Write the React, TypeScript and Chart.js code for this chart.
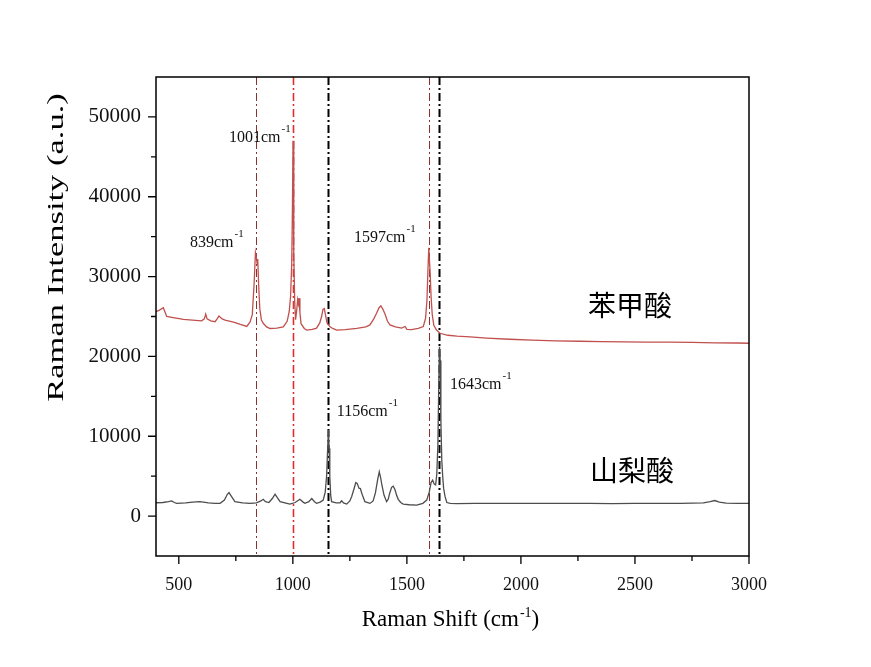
import React, { useEffect, useRef } from 'react';
import { Chart, registerables } from 'chart.js';

Chart.register(...registerables);

// ---------------- data ----------------
const benzoicShift = [
  400, 415, 432, 447, 470, 520, 560, 600, 612, 618, 624, 640, 659, 668, 676, 690, 703, 740, 770, 798,
  812, 822, 830, 836, 840, 844, 846, 850, 855, 862, 870, 885, 900, 930, 958, 975, 984, 990, 995, 998,
  1001, 1003, 1005, 1008, 1012, 1017, 1021, 1024, 1027, 1031, 1036, 1050, 1061, 1085, 1104, 1118, 1126,
  1132, 1138, 1143, 1150, 1163, 1175, 1192, 1230, 1280, 1320, 1338, 1355, 1367, 1378, 1386, 1395, 1404,
  1415, 1426, 1450, 1477, 1492, 1500, 1520, 1550, 1572, 1582, 1588, 1592, 1596, 1599, 1602, 1606, 1611,
  1618, 1630, 1645, 1680, 1720, 1777, 1850, 1950, 2050, 2150, 2259, 2350, 2450, 2550, 2650, 2750, 2850,
  2950, 3000,
];
const benzoicIntensity = [
  25600, 25800, 26100, 25000, 24900, 24650, 24550, 24450, 24700, 25300, 24700, 24450, 24350, 24700, 25050,
  24700, 24550, 24300, 24000, 23750, 24300, 25200, 29000, 33000, 32400, 31500, 32200, 29000, 26000, 24600,
  24150, 23700, 23500, 23550, 23700, 24400, 25600, 27500, 31500, 38000, 47000, 44000, 33000, 27000, 24600,
  25800, 27100, 26600, 27300, 25500, 24100, 23500, 23300, 23400, 23550, 24200, 25000, 25900, 26000, 25200,
  24200, 23700, 23500, 23300, 23350, 23500, 23700, 23950, 24700, 25400, 26100, 26350, 25900, 25300, 24400,
  23950, 23700, 23550, 23750, 23400, 23350, 23500, 23750, 24800, 27000, 30500, 33600, 32000, 30500, 27500,
  25300, 23900, 23300, 22900, 22650, 22550, 22450, 22300, 22150, 22050, 21950, 21900, 21850, 21820, 21800,
  21780, 21750, 21700, 21680, 21650,
];

const sorbicShift = [
  400, 430, 455, 469, 480, 491, 530, 560, 593, 630, 660, 681, 700, 712, 720, 730, 746, 780, 812, 840,
  860, 870, 880, 895, 910, 922, 932, 944, 965, 987, 1010, 1031, 1045, 1053, 1070, 1083, 1095, 1104, 1120,
  1133, 1142, 1148, 1152, 1156, 1159, 1162, 1166, 1170, 1190, 1207, 1214, 1222, 1236, 1250, 1258, 1268,
  1276, 1282, 1290, 1296, 1304, 1316, 1338, 1352, 1362, 1372, 1379, 1385, 1391, 1400, 1411, 1418, 1425,
  1433, 1440, 1448, 1455, 1462, 1473, 1484, 1510, 1543, 1570, 1587, 1598, 1606, 1613, 1620, 1626, 1631,
  1636, 1640, 1643, 1646, 1649, 1653, 1657, 1661, 1667, 1675, 1690, 1720, 1800, 1900, 2000, 2100, 2200,
  2300, 2400, 2500, 2600, 2700, 2800, 2830, 2850, 2870, 2900, 2950, 3000,
];
const sorbicIntensity = [
  1670, 1700, 1800, 1900, 1700, 1590, 1650, 1750, 1800, 1650, 1600, 1600, 2000, 2700, 2950, 2500, 1800,
  1650, 1600, 1650, 1900, 2100, 1800, 1700, 2200, 2750, 2300, 1800, 1650, 1500, 1700, 2100, 1750, 1600,
  1800, 2200, 1800, 1600, 1750, 2000, 3000, 5000, 8000, 10800, 8500, 5000, 2600, 1800, 1650, 1670, 1920,
  1650, 1500, 1900, 2450, 3400, 4200, 4100, 3500, 3450, 2700, 1800, 1590, 1900, 2900, 4600, 5550, 4800,
  3800, 2600, 1800, 2100, 2900, 3600, 3750, 3300, 2600, 2100, 1700, 1500, 1420, 1380, 1600, 2000, 3000,
  4200, 4500, 4000, 3900, 5200, 9000, 17000, 21200, 19500, 12000, 7000, 5000, 3500, 2500, 1700, 1600,
  1550, 1600, 1580, 1590, 1600, 1580, 1600, 1570, 1590, 1580, 1600, 1650, 1800, 1950, 1750, 1620, 1600,
  1590,
];

const xMajorTicks = [500, 1000, 1500, 2000, 2500, 3000];
const xMinorTicks = [750, 1250, 1750, 2250, 2750];
const yMajorTicks = [0, 10000, 20000, 30000, 40000, 50000];
const yMinorTicks = [5000, 15000, 25000, 35000, 45000];

const seriesNames = ['苯甲酸', '山梨酸'];
const peakPositions = [839, 1001, 1156, 1597, 1643];
const peakLabels = ['839', '1001', '1597', '1156', '1643'];

// anchors in data coordinates (left/baseline of the text)
const peakLabelAnchorX = [549, 720, 1268, 1193, 1689];
const peakLabelAnchorY = [33700, 46870, 34330, 12530, 15910];
// centers in data coordinates for the compound names
const nameAnchorX = [2478, 2487];
const nameAnchorY = [26440, 5760];

// ---------------- styles ----------------
const SERIF = '"Liberation Serif", "Times New Roman", serif';
const CJK = '"Noto Sans CJK SC", "Noto Sans", sans-serif';
const refLineStyles = [
  { color: '#8c2f2f', width: 1, dash: [8, 3, 2, 3] },
  { color: '#e0302a', width: 1.6, dash: [8, 3, 2, 3] },
  { color: '#000000', width: 2, dash: [8, 3, 2, 3] },
  { color: '#8c2f2f', width: 1, dash: [8, 3, 2, 3] },
  { color: '#000000', width: 2, dash: [8, 3, 2, 3] },
];

function drawWithSup(
  ctx: CanvasRenderingContext2D,
  base: string,
  sup: string,
  tail: string,
  x: number,
  y: number,
  size: number,
  supSize: number,
  raise: number,
  align: 'left' | 'center',
) {
  ctx.font = `${size}px ${SERIF}`;
  const wBase = ctx.measureText(base).width;
  const wTail = ctx.measureText(tail).width;
  ctx.font = `${supSize}px ${SERIF}`;
  const wSup = ctx.measureText(sup).width;
  const total = wBase + wSup + wTail + 1;
  let sx = align === 'center' ? x - total / 2 : x;
  ctx.textAlign = 'left';
  ctx.textBaseline = 'alphabetic';
  ctx.font = `${size}px ${SERIF}`;
  ctx.fillText(base, sx, y);
  sx += wBase + 1;
  ctx.font = `${supSize}px ${SERIF}`;
  ctx.fillText(sup, sx, y - raise);
  sx += wSup;
  if (tail) {
    ctx.font = `${size}px ${SERIF}`;
    ctx.fillText(tail, sx, y);
  }
}

const overlayPlugin = {
  id: 'overlay',
  beforeDatasetsDraw(chart: any) {
    const { ctx, chartArea: a, scales } = chart;
    const xs = scales.x;
    ctx.save();
    peakPositions.forEach((p, i) => {
      const st = refLineStyles[i];
      const px = Math.round(xs.getPixelForValue(p)) + 0.5;
      ctx.strokeStyle = st.color;
      ctx.lineWidth = st.width;
      ctx.setLineDash(st.dash);
      ctx.beginPath();
      ctx.moveTo(px, a.top);
      ctx.lineTo(px, a.bottom);
      ctx.stroke();
    });
    ctx.restore();
  },
  afterDraw(chart: any) {
    const { ctx, chartArea: a, scales } = chart;
    const xs = scales.x;
    const ys = scales.y;
    ctx.save();
    // frame
    ctx.strokeStyle = '#000';
    ctx.lineWidth = 1.5;
    ctx.setLineDash([]);
    ctx.strokeRect(a.left, a.top, a.right - a.left, a.bottom - a.top);
    // ticks
    ctx.lineWidth = 1.3;
    ctx.beginPath();
    xMajorTicks.forEach((v) => {
      const px = xs.getPixelForValue(v);
      ctx.moveTo(px, a.bottom);
      ctx.lineTo(px, a.bottom + 8);
    });
    xMinorTicks.forEach((v) => {
      const px = xs.getPixelForValue(v);
      ctx.moveTo(px, a.bottom);
      ctx.lineTo(px, a.bottom + 5);
    });
    yMajorTicks.forEach((v) => {
      const py = ys.getPixelForValue(v);
      ctx.moveTo(a.left, py);
      ctx.lineTo(a.left - 8, py);
    });
    yMinorTicks.forEach((v) => {
      const py = ys.getPixelForValue(v);
      ctx.moveTo(a.left, py);
      ctx.lineTo(a.left - 5, py);
    });
    ctx.stroke();

    // peak labels
    ctx.fillStyle = '#111';
    peakLabels.forEach((t, i) => {
      const px = xs.getPixelForValue(peakLabelAnchorX[i]);
      const py = ys.getPixelForValue(peakLabelAnchorY[i]);
      drawWithSup(ctx, t + 'cm', '-1', '', px, py, 16, 11, 10, 'left');
    });

    // compound names
    ctx.fillStyle = '#000';
    ctx.font = `28px ${CJK}`;
    ctx.textAlign = 'center';
    ctx.textBaseline = 'middle';
    seriesNames.forEach((n, i) => {
      ctx.fillText(n, xs.getPixelForValue(nameAnchorX[i]), ys.getPixelForValue(nameAnchorY[i]));
    });

    // x-axis title
    ctx.fillStyle = '#000';
    drawWithSup(ctx, 'Raman Shift (cm', '-1', ')', (a.left + a.right) / 2 - 2, 626, 23, 14, 9, 'center');

    // y-axis title (rotated, stretched along its length like the original)
    ctx.save();
    ctx.translate(57, (a.top + a.bottom) / 2 - 69);
    ctx.rotate(-Math.PI / 2);
    ctx.scale(1.5, 1);
    ctx.font = `23px ${SERIF}`;
    ctx.textAlign = 'center';
    ctx.textBaseline = 'middle';
    ctx.fillText('Raman Intensity (a.u.)', 0, 0);
    ctx.restore();

    ctx.restore();
  },
};

export default function App() {
  const canvasRef = useRef<HTMLCanvasElement | null>(null);

  useEffect(() => {
    const canvas = canvasRef.current;
    if (!canvas) return;
    const chart = new Chart(canvas, {
      type: 'line',
      data: {
        datasets: [
          {
            label: seriesNames[0],
            data: benzoicShift.map((x, i) => ({ x, y: benzoicIntensity[i] })),
            borderColor: '#c0504d',
            borderWidth: 1.3,
            pointRadius: 0,
            tension: 0,
            fill: false,
          },
          {
            label: seriesNames[1],
            data: sorbicShift.map((x, i) => ({ x, y: sorbicIntensity[i] })),
            borderColor: '#4d4d4d',
            borderWidth: 1.3,
            pointRadius: 0,
            tension: 0,
            fill: false,
          },
        ],
      },
      options: {
        animation: false,
        responsive: false,
        maintainAspectRatio: false,
        layout: { padding: { left: 0, top: 77, right: 122, bottom: 0 } },
        plugins: {
          legend: { display: false },
          tooltip: { enabled: false },
          title: { display: false },
        },
        scales: {
          x: {
            type: 'linear',
            min: 400,
            max: 3000,
            grid: { display: false },
            border: { display: false },
            afterBuildTicks: (scale: any) => {
              scale.ticks = xMajorTicks.map((v) => ({ value: v }));
            },
            afterFit: (scale: any) => {
              scale.height = 111;
            },
            ticks: {
              autoSkip: false,
              maxRotation: 0,
              padding: 10,
              color: '#111',
              font: { family: SERIF, size: 18 },
              callback: (v: any) => String(v),
            },
          },
          y: {
            type: 'linear',
            min: -5000,
            max: 55000,
            grid: { display: false },
            border: { display: false },
            afterBuildTicks: (scale: any) => {
              scale.ticks = yMajorTicks.map((v) => ({ value: v }));
            },
            afterFit: (scale: any) => {
              scale.width = 156;
            },
            ticks: {
              autoSkip: false,
              padding: 7,
              color: '#111',
              font: { family: SERIF, size: 21 },
              callback: (v: any) => String(v),
            },
          },
        },
      },
      plugins: [overlayPlugin],
    } as any);
    return () => chart.destroy();
  }, []);

  return (
    <div style={{ position: 'fixed', left: 0, top: 0, width: 871, height: 667, background: '#fff' }}>
      <canvas ref={canvasRef} width={871} height={667} />
    </div>
  );
}
